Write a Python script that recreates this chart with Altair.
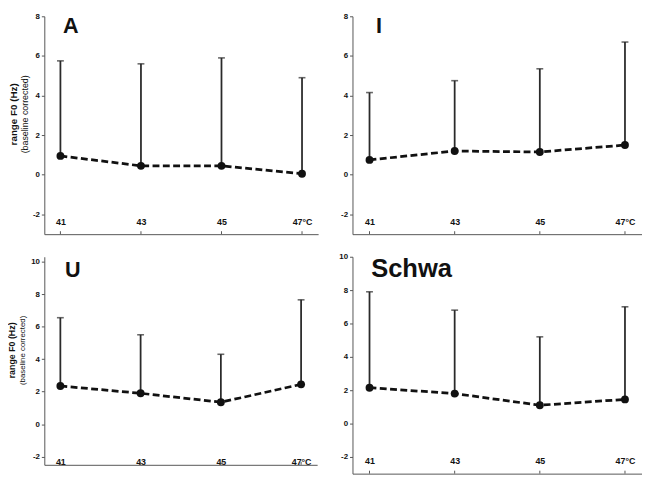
import altair as alt
import pandas as pd

temps = [41, 43, 45, 47]

A_mean = [0.95, 0.45, 0.45, 0.05]
A_upper = [5.75, 5.6, 5.9, 4.9]
I_mean = [0.75, 1.2, 1.15, 1.5]
I_upper = [4.15, 4.75, 5.35, 6.7]
U_mean = [2.35, 1.9, 1.35, 2.45]
U_upper = [6.55, 5.5, 4.3, 7.65]
S_mean = [2.15, 1.8, 1.1, 1.45]
S_upper = [7.9, 6.8, 5.2, 7.0]

ticks_top = [-2, 0, 2, 4, 6, 8]
ticks_bottom = [-2, 0, 2, 4, 6, 8, 10]

FONT = "Liberation Sans"
INK = "#111111"
AXC = "#555555"


def panel(letter, means, uppers, ydomain, yticks, width, height,
          lx, ly, lsize, ytitle=False, tsize=10, ssize=9, tx=-33, xpad=-13):
    df = pd.DataFrame({"temp": temps, "mean": means, "upper": uppers})
    x_axis = alt.Axis(
        values=temps, title=None, grid=False, ticks=False,
        domainColor=AXC, domainWidth=1,
        labelFont=FONT, labelFontWeight="bold", labelFontSize=9,
        labelColor=INK, labelBaseline="middle", labelPadding=xpad,
        labelOverlap=False,
        labelExpr="datum.value == 47 ? '47°C' : datum.label",
    )
    x_scale = alt.Scale(domain=[40.6, 47.4], nice=False, zero=False)
    x = alt.X("temp:Q", scale=x_scale, axis=x_axis)
    y_scale = alt.Scale(domain=ydomain, nice=False, zero=False)
    y_axis = alt.Axis(
        values=yticks, title=None, grid=False, tickSize=3,
        tickColor=AXC, domainColor=AXC, labelFont=FONT,
        labelFontWeight="bold", labelFontSize=8, labelColor=INK,
        labelPadding=2, labelOverlap=False,
        labelExpr="datum.value + ''",
    )
    y = alt.Y("mean:Q", scale=y_scale, axis=y_axis)
    base = alt.Chart(df)
    err = base.mark_rule(color="#2a2a2a", strokeWidth=1.8).encode(
        x=x, y=y, y2="upper:Q")
    cap = base.mark_tick(orient="horizontal", size=7, thickness=1.6,
                         color="#2a2a2a").encode(
        x=x, y=alt.Y("upper:Q", scale=y_scale, axis=y_axis))
    line = base.mark_line(color=INK, strokeWidth=2.8,
                          strokeDash=[7, 3.5]).encode(x=x, y=y)
    pts = base.mark_circle(size=64, color=INK, opacity=1).encode(x=x, y=y)
    xt = base.mark_rule(color=AXC, strokeWidth=1).encode(
        x=x, y=alt.value(height), y2=alt.value(height - 3))
    lab = alt.Chart(pd.DataFrame({"t": [letter]})).mark_text(
        font=FONT, fontWeight="bold", fontSize=lsize, align="left",
        baseline="top", color=INK).encode(
        text="t:N", x=alt.value(lx), y=alt.value(ly))
    layers = [err, cap, line, pts, xt, lab]
    if ytitle:
        t1 = alt.Chart(pd.DataFrame({"t": ["range F0 (Hz)"]})).mark_text(
            font=FONT, fontWeight="bold", fontSize=tsize, angle=270,
            align="center", baseline="middle", color=INK).encode(
            text="t:N", x=alt.value(tx), y=alt.value(height * 0.45))
        t2 = alt.Chart(pd.DataFrame({"t": ["(baseline corrected)"]})).mark_text(
            font=FONT, fontSize=ssize, angle=270, align="center",
            baseline="middle", color=INK).encode(
            text="t:N", x=alt.value(tx + 11), y=alt.value(height * 0.45))
        layers += [t1, t2]
    return alt.layer(*layers).properties(width=width, height=height)


pA = panel("A", A_mean, A_upper, [-3, 8], ticks_top, 279, 222, 19, 0, 22,
           ytitle=True, tx=-31)
pI = panel("I", I_mean, I_upper, [-3, 8], ticks_top, 295, 222, 24, 0, 22)
pU = panel("U", U_mean, U_upper, [-2.5, 10.3], ticks_bottom, 278, 212, 21,
           4, 22, ytitle=True, tsize=9, ssize=8, tx=-33, xpad=-3)
pS = panel("Schwa", S_mean, S_upper, [-3, 10], ticks_bottom, 295, 221, 19,
           0, 26)

top = alt.hconcat(pA, pI, spacing=22)
bottom = alt.hconcat(pU, pS, spacing=22)
chart = alt.vconcat(top, bottom, spacing=18).properties(
    padding=0, background="white"
).configure_view(stroke=None)

chart.save("out.html", embed_options={"renderer": "svg", "actions": False})
